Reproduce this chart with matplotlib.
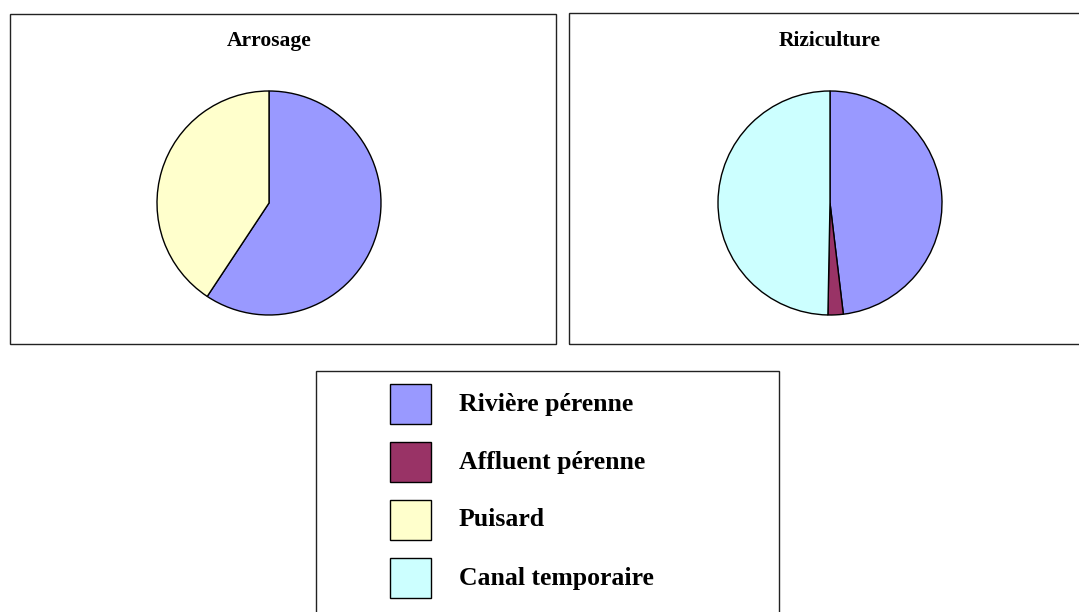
import matplotlib
matplotlib.use("Agg")
import matplotlib.pyplot as plt
from matplotlib.patches import Rectangle

plt.rcParams['font.family'] = ['Liberation Serif', 'DejaVu Serif']

# data (percent)
sources = ['Rivière pérenne', 'Affluent pérenne', 'Puisard', 'Canal temporaire']
colors = ['#9999FF', '#993366', '#FFFFCC', '#CCFFFF']

arrosage_labels = ['Rivière pérenne', 'Puisard']
arrosage_values = [59.3, 40.7]

riziculture_labels = ['Rivière pérenne', 'Affluent pérenne', 'Canal temporaire']
riziculture_values = [48.1, 2.2, 49.7]

W, H = 1079, 612
fig = plt.figure(figsize=(W / 100, H / 100), dpi=100)
ax = fig.add_axes([0, 0, 1, 1])

color_of = dict(zip(sources, colors))


def panel(x0, x1, y0, y1, title, labels, values, cx):
    # frame of the chart box (y given from top)
    ax.add_patch(Rectangle((x0, H - y1), x1 - x0, y1 - y0, fill=False,
                           edgecolor='#222222', lw=1.0))
    ax.text(cx, H - 41, title, ha='center', va='center',
            fontsize=15.5, fontweight='bold')
    ax.pie(values, colors=[color_of[l] for l in labels], startangle=90,
           counterclock=False, center=(cx, H - 203), radius=112,
           wedgeprops=dict(edgecolor='black', linewidth=1.0), frame=True)


panel(10, 556, 14, 344, 'Arrosage', arrosage_labels, arrosage_values, 269)
panel(569, 1085, 13, 344, 'Riziculture', riziculture_labels,
      riziculture_values, 830)

ax.set_xlim(0, W)
ax.set_ylim(0, H)
ax.set_aspect('equal')
ax.axis('off')

# legend box
ax.add_patch(Rectangle((316, -10), 463, H - 371 + 10, fill=False,
                       edgecolor='#222222', lw=1.0))
for i, (name, c) in enumerate(zip(sources, colors)):
    yc = H - (404 + i * 58)
    ax.add_patch(Rectangle((390, yc - 20), 41, 40, facecolor=c,
                           edgecolor='black', lw=1.0))
    ax.text(459, yc, name, ha='left', va='center', fontsize=18.5,
            fontweight='bold')

fig.savefig('out.png', dpi=100)
